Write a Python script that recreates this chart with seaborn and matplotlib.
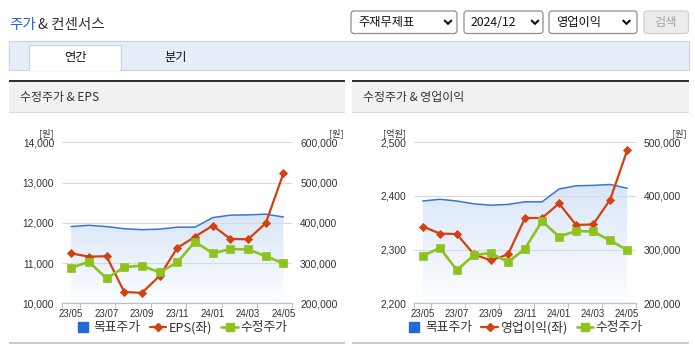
import numpy as np
import pandas as pd
import matplotlib
matplotlib.use("Agg")
import matplotlib.pyplot as plt
import seaborn as sns
from matplotlib import font_manager as fm
from matplotlib.patches import Rectangle, FancyBboxPatch
from matplotlib.lines import Line2D
from matplotlib.colors import LinearSegmentedColormap
from matplotlib.ticker import FuncFormatter, FixedLocator

# ---------------- data ----------------
months = ["23/05", "23/06", "23/07", "23/08", "23/09", "23/10", "23/11",
          "23/12", "24/01", "24/02", "24/03", "24/04", "24/05"]
target_price = [390600, 393800, 390600, 385300, 382800, 384300, 389100,
                389100, 412900, 419000, 419700, 421400, 414400]
adj_price = [288000, 303300, 261800, 289800, 293800, 276600, 301900,
             353000, 324200, 334600, 333800, 317100, 299100]
eps = [11240, 11160, 11170, 10280, 10260, 10680, 11375,
       11655, 11930, 11600, 11590, 11990, 13230]
op_income = [2343, 2330, 2329, 2291, 2280, 2291, 2359,
             2359, 2386, 2346, 2347, 2393, 2485]
eps_ticks = [10000, 11000, 12000, 13000, 14000]
eps_price_ticks = [200000, 300000, 400000, 500000, 600000]
op_ticks = [2200, 2300, 2400, 2500]
op_price_ticks = [200000, 300000, 400000, 500000]

# ---------------- fonts ----------------
sns.set_style("white")


def has_font(name):
    try:
        fm.findfont(fm.FontProperties(family=name), fallback_to_default=False)
        return True
    except Exception:
        return False


KR = "Noto Sans CJK KR"
NUM = "Liberation Sans Narrow" if has_font("Liberation Sans Narrow") else "Liberation Sans"
plt.rcParams["font.family"] = [KR, "DejaVu Sans"]
NUMF = [NUM, KR]

BLUE = "#3a74d6"
RED = "#d4400f"
GREEN = "#8dc21f"
TXT = "#333333"

W, H = 695, 349
fig = plt.figure(figsize=(W / 100, H / 100), dpi=100)
fig.patch.set_facecolor("white")

# background / page decorations in pixel coordinates
bg = fig.add_axes([0, 0, 1, 1], zorder=-10)
bg.set_xlim(0, W)
bg.set_ylim(H, 0)
bg.axis("off")


def rect(x0, y0, x1, y1, fc, ec="none", lw=0.0, z=1):
    bg.add_patch(Rectangle((x0, y0), x1 - x0, y1 - y0, facecolor=fc,
                           edgecolor=ec, linewidth=lw, zorder=z))


# title
bg.text(9, 25, "주가", color="#2a62d4", fontsize=10.5, va="center", ha="left")
bg.text(38.5, 25, "& 컨센서스", color=TXT, fontsize=10.5, va="center", ha="left")

# dropdowns
def dropdown(x0, x1, label, chev_x):
    bg.add_patch(FancyBboxPatch((x0, 11), x1 - x0, 22.5,
                                boxstyle="round,pad=0,rounding_size=3",
                                facecolor="white", edgecolor="#8f8f8f",
                                linewidth=0.9, zorder=2))
    bg.text(x0 + 7, 22.5, label, fontsize=8.8, color="#111111",
            va="center", ha="left", zorder=3)
    bg.add_line(Line2D([chev_x - 3.3, chev_x, chev_x + 3.3], [20.6, 23.8, 20.6],
                       color="#111111", linewidth=1.5, zorder=3,
                       solid_capstyle="round", solid_joinstyle="miter"))


dropdown(351, 457, "주재무제표", 448)
dropdown(464, 543, "2024/12", 535)
dropdown(549, 637, "영업이익", 626.5)
bg.add_patch(FancyBboxPatch((644, 11), 44.5, 22.5,
                            boxstyle="round,pad=0,rounding_size=3",
                            facecolor="#ececec", edgecolor="#d0d0d0",
                            linewidth=0.9, zorder=2))
bg.text(666, 22.5, "검색", fontsize=8.8, color="#a5a5a5", va="center",
        ha="center", zorder=3)

# tab bar
rect(9, 40.5, 688.5, 69.5, "#e8eef8", "#cbd4e3", 0.9, z=1)
rect(29, 45, 120.5, 70.2, "white", "#cbd4e3", 0.9, z=2)
rect(29.6, 68.8, 119.9, 70.6, "white", z=3)
bg.text(75, 57.5, "연간", fontsize=8.8, color="#111111", ha="center", va="center", zorder=4)
bg.text(175.5, 57.5, "분기", fontsize=8.8, color="#111111", ha="center", va="center", zorder=4)

# panels
for (px0, px1, ptitle) in [(9, 345, "수정주가 & EPS"), (352, 689, "수정주가 & 영업이익")]:
    rect(px0, 82, px1, 112, "#f1f1f1", z=1)
    rect(px0, 80, px1, 82.2, "#333333", z=2)
    rect(px0, 111.6, px1, 112.6, "#dcdcdc", z=2)
    rect(px0, 341.5, px1, 344, "#cccccc", z=2)
    bg.text(px0 + 11, 97.5, ptitle, fontsize=8.6, color=TXT, ha="left",
            va="center", zorder=3)

grad_cmap = LinearSegmentedColormap.from_list("g", ["#fdfeff", "#d9e6f8"])


def fmt(v, _):
    return f"{v:,.0f}"


def draw_chart(px0, px1, left_vals, left_ticks, right_ticks, left_label,
               left_unit, left_unit_x, right_unit_x, legend_cx):
    py0, py1 = 142.3, 303.3
    ax = fig.add_axes([px0 / W, 1 - py1 / H, (px1 - px0) / W, (py1 - py0) / H], zorder=1)
    xs = np.arange(len(months))
    df = pd.DataFrame({"x": xs, "target": target_price, "adj": adj_price,
                       "left": left_vals})
    rlo, rhi = right_ticks[0], right_ticks[-1]
    llo, lhi = left_ticks[0], left_ticks[-1]

    # gradient area under target price
    poly = ax.fill_between(df["x"], df["target"], rlo, facecolor="none",
                           edgecolor="none")
    img = ax.imshow(np.linspace(0, 1, 256).reshape(-1, 1), cmap=grad_cmap,
                    origin="lower", aspect="auto", interpolation="bilinear",
                    extent=[xs[0], xs[-1], rlo, max(target_price)], zorder=0)
    img.set_clip_path(poly.get_paths()[0], transform=ax.transData)
    sns.lineplot(data=df, x="x", y="target", ax=ax, color=BLUE, linewidth=1.1,
                 legend=False, zorder=2)

    ax_mid = ax.twinx()
    sns.lineplot(data=df, x="x", y="left", ax=ax_mid, color=RED, linewidth=1.6,
                 marker="D", markersize=4.2, markeredgecolor=RED,
                 markeredgewidth=0.6, legend=False)
    ax_top = ax.twinx()
    sns.lineplot(data=df, x="x", y="adj", ax=ax_top, color=GREEN, linewidth=1.9,
                 marker="s", markersize=6.0, markeredgecolor=GREEN,
                 markeredgewidth=0.5, legend=False)

    for a in (ax, ax_mid, ax_top):
        a.set_xlim(-0.5, len(months) - 0.5)
        a.set_xlabel("")
        a.set_ylabel("")
        for s in a.spines.values():
            s.set_visible(False)
        a.patch.set_alpha(0)
    ax.patch.set_alpha(1)
    ax.patch.set_facecolor("white")

    ax.set_ylim(rlo, rhi)
    ax_top.set_ylim(rlo, rhi)
    ax_mid.set_ylim(llo, lhi)

    # gridlines
    ax.yaxis.set_major_locator(FixedLocator(right_ticks))
    ax.grid(axis="y", color="#dadada", linewidth=0.8)
    ax.grid(axis="x", visible=False)
    ax.set_axisbelow(True)

    # right axis labels (prices) on ax
    ax.yaxis.tick_right()
    ax.yaxis.set_major_formatter(FuncFormatter(fmt))
    ax.tick_params(axis="y", length=0, pad=5.6, labelsize=7.4, labelcolor=TXT)
    for t in ax.get_yticklabels():
        t.set_fontfamily(NUMF)

    # left axis labels
    ax_mid.yaxis.tick_left()
    ax_mid.yaxis.set_major_locator(FixedLocator(left_ticks))
    ax_mid.yaxis.set_major_formatter(FuncFormatter(fmt))
    ax_mid.tick_params(axis="y", length=0, pad=5.8, labelsize=7.4, labelcolor=TXT)
    for t in ax_mid.get_yticklabels():
        t.set_fontfamily(NUMF)
    ax_mid.grid(False)
    ax_top.grid(False)
    ax_top.set_yticks([])
    ax_mid.set_xticks([])
    ax_top.set_xticks([])

    # x axis
    ax.spines["bottom"].set_visible(True)
    ax.spines["bottom"].set_color("#b9c2d0")
    ax.spines["bottom"].set_linewidth(0.9)
    ax.set_xticks(xs[::2])
    ax.set_xticklabels(months[::2], fontfamily=NUMF)
    ax.set_xticks([-0.5, 0.5, 2.5, 4.5, 6.5, 8.5, 10.5, 12.5], minor=True)
    ax.tick_params(axis="x", which="major", length=0, pad=4.2, labelsize=7.0,
                   labelcolor=TXT)
    ax.tick_params(axis="x", which="minor", length=3.5, width=0.8,
                   color="#b9c2d0", direction="out", bottom=True)
    ax.set_xlim(-0.5, len(months) - 0.5)

    # unit labels
    bg.text(left_unit_x, 133.5, left_unit, fontsize=6.6, color=TXT,
            ha="center", va="center")
    bg.text(right_unit_x, 133.5, "[원]", fontsize=6.6, color=TXT,
            ha="center", va="center")

    handles = [
        Line2D([], [], linestyle="none", marker="s", markersize=7.2,
               color="#2268d8"),
        Line2D([], [], color=RED, linewidth=1.6, marker="D", markersize=4.2),
        Line2D([], [], color=GREEN, linewidth=1.9, marker="s", markersize=5.5),
    ]
    leg = ax.legend(handles, ["목표주가", left_label, "수정주가"], ncol=3,
                    loc="center", bbox_to_anchor=(legend_cx, 327.5),
                    bbox_transform=bg.transData, frameon=False, fontsize=9.2,
                    handlelength=1.3, handletextpad=0.2, columnspacing=0.7,
                    borderaxespad=0, borderpad=0)
    for t in leg.get_texts():
        t.set_color(TXT)


draw_chart(62.3, 292.3, eps, eps_ticks, eps_price_ticks, "EPS(좌)", "[원]",
           46.5, 336, 181)
draw_chart(414.3, 635.7, op_income, op_ticks, op_price_ticks, "영업이익(좌)",
           "[억원]", 394, 679, 524.5)

fig.savefig("out.png", dpi=100)
